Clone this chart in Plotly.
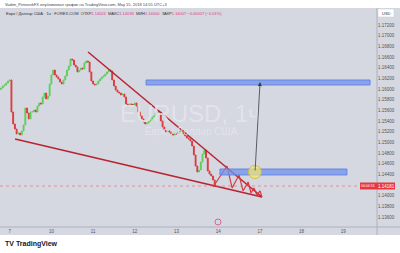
import plotly.graph_objects as go

# ---------------- data ----------------
closes = [1.16019, 1.16056, 1.16075, 1.16113, 1.16150, 1.16169, 1.15569, 1.15344, 1.15250, 1.15156,
          1.15175, 1.15138, 1.15213, 1.15325, 1.15644, 1.15550, 1.15438, 1.15569, 1.15575, 1.15606,
          1.15569, 1.15681, 1.15738, 1.15719, 1.15850, 1.15925, 1.15813, 1.15869, 1.16094, 1.16263,
          1.16356, 1.16263, 1.16225, 1.16188, 1.16131, 1.16094, 1.16169, 1.16244, 1.16356, 1.16431,
          1.16563, 1.16544, 1.16450, 1.16413, 1.16319, 1.16356, 1.16394, 1.16375, 1.16488, 1.16525,
          1.16506, 1.16319, 1.16150, 1.16094, 1.16075, 1.16094, 1.16150, 1.16188, 1.16225, 1.16244,
          1.16281, 1.16319, 1.16356, 1.16338, 1.16169, 1.16056, 1.15981, 1.15944, 1.15925, 1.15888,
          1.15906, 1.15850, 1.15719, 1.15681, 1.15719, 1.15712, 1.15700, 1.15738, 1.15681, 1.15569,
          1.15494, 1.15438, 1.15381, 1.15344, 1.15363, 1.15400, 1.15438, 1.15475, 1.15494, 1.15550,
          1.15588, 1.15569, 1.15400, 1.15288, 1.15231, 1.15194, 1.15213, 1.15194, 1.15156, 1.15138,
          1.15156, 1.15150, 1.15194, 1.15213, 1.15220, 1.15156, 1.15119, 1.15081, 1.15063, 1.15025,
          1.14931, 1.14763, 1.14556, 1.14444, 1.14481, 1.14631, 1.14781, 1.14856, 1.14706, 1.14463,
          1.14406, 1.14369, 1.14294, 1.14181]
first_open = 1.15990
day_index = [5, 29, 53, 77, 101, 125, 149, 173, 197]
day_labels = ["7", "10", "11", "12", "13", "14", "17", "18", "19"]
price_ticks = [1.136, 1.138, 1.140, 1.142, 1.144, 1.146, 1.148, 1.150, 1.152, 1.154, 1.156,
               1.158, 1.160, 1.162, 1.164, 1.166, 1.168, 1.170, 1.172]
last_price = 1.14181

# drawings (time index, price)
upper_trend_t = [50.1, 150.2]
upper_trend_p = [1.16694, 1.13975]
lower_trend_t = [8.1, 150.2]
lower_trend_p = [1.15063, 1.13975]
zigzag_t = [122.0, 130.1, 133.0, 137.0, 139.3, 142.2, 143.9, 145.6, 147.3, 149.1, 150.2]
zigzag_p = [1.14162, 1.14556, 1.14144, 1.14388, 1.14088, 1.14256, 1.14050, 1.14144, 1.14013, 1.14088, 1.13975]
zone_upper_t = [83.5, 212.4]
zone_upper_p = [1.16075, 1.16169]
zone_lower_t = [126.0, 199.1]
zone_lower_p = [1.14388, 1.14500]
arrow_t = [146.2, 149.1]
arrow_p = [1.14444, 1.16131]
circle_t = [142.4, 149.9]
circle_p = [1.14322, 1.14566]

# ---------------- figure ----------------
opens = [first_open] + closes[:-1]
highs = [max(o, c) for o, c in zip(opens, closes)]
lows = [min(o, c) for o, c in zip(opens, closes)]
idx = list(range(len(closes)))

GREEN = "#5ccf5a"
RED = "#dc3a3d"
BG = "#d5d7e1"
W, H = 400, 253

def py(p):  # pixel-from-top -> paper fraction
    return (H - p) / H

fig = go.Figure()
fig.add_trace(go.Candlestick(
    x=idx, open=opens, high=highs, low=lows, close=closes,
    increasing=dict(line=dict(color=GREEN, width=1), fillcolor=GREEN),
    decreasing=dict(line=dict(color=RED, width=1), fillcolor=RED),
    whiskerwidth=0, showlegend=False, hoverinfo="skip"))

TREND = "#b8232f"
fig.add_trace(go.Scatter(x=upper_trend_t, y=upper_trend_p, mode="lines",
                         line=dict(color=TREND, width=1.5), showlegend=False, hoverinfo="skip"))
fig.add_trace(go.Scatter(x=lower_trend_t, y=lower_trend_p, mode="lines",
                         line=dict(color=TREND, width=1.5), showlegend=False, hoverinfo="skip"))
fig.add_trace(go.Scatter(x=zigzag_t, y=zigzag_p, mode="lines",
                         line=dict(color="#d83a40", width=1.2), showlegend=False, hoverinfo="skip"))

shapes = []
# panel background
shapes.append(dict(type="rect", xref="paper", yref="paper", x0=0, x1=1, y0=py(235), y1=py(8),
                   fillcolor=BG, line=dict(width=0), layer="below"))
# separators
shapes.append(dict(type="line", xref="paper", yref="paper", x0=377 / W, x1=377 / W, y0=py(235), y1=py(8),
                   line=dict(color="#aeb1bd", width=1)))
shapes.append(dict(type="line", xref="paper", yref="paper", x0=0, x1=1, y0=py(227), y1=py(227),
                   line=dict(color="#aeb1bd", width=1)))
# zones
for zt, zp in ((zone_upper_t, zone_upper_p), (zone_lower_t, zone_lower_p)):
    shapes.append(dict(type="rect", xref="x", yref="y", x0=zt[0], x1=zt[1], y0=zp[0], y1=zp[1],
                       fillcolor="rgba(110,145,235,0.75)", line=dict(color="rgba(95,130,230,0.9)", width=1)))
# last price line
shapes.append(dict(type="line", xref="paper", yref="y", x0=0, x1=377 / W, y0=last_price, y1=last_price,
                   line=dict(color="rgba(235,90,100,0.55)", width=1, dash="dot")))
# yellow circle
shapes.append(dict(type="circle", xref="x", yref="y", x0=circle_t[0], x1=circle_t[1],
                   y0=circle_p[0], y1=circle_p[1],
                   fillcolor="rgba(246,232,110,0.7)", line=dict(color="rgba(205,185,60,0.9)", width=1)))
# price label box
shapes.append(dict(type="rect", xref="paper", yref="y", x0=360 / W, x1=395 / W,
                   y0=last_price - 0.00065, y1=last_price + 0.00065,
                   fillcolor="#e8383d", line=dict(width=0)))
# USD box
shapes.append(dict(type="rect", xref="paper", yref="paper", x0=378 / W, x1=394 / W, y0=py(17), y1=py(9),
                   fillcolor="white", line=dict(color="#c8cad4", width=0.5)))
# event icon
shapes.append(dict(type="circle", xref="paper", yref="paper", x0=215 / W, x1=221 / W, y0=py(225), y1=py(219),
                   fillcolor="rgba(0,0,0,0)", line=dict(color="#e0609a", width=1)))

PINK = "#d6457a"
legend = ("Евро / Доллар США · 1ч · FOREX.COM  ОТКР<span style='color:%s'>1.14024</span>  "
          "МАКС<span style='color:%s'>1.14038</span>  МИН<span style='color:%s'>1.14000</span>  "
          "ЗАКР<span style='color:%s'>1.14007 −0.00007 (−0.01%%)</span>") % (PINK, PINK, PINK, PINK)

annotations = [
    dict(xref="paper", yref="paper", x=3 / W, y=py(4), xanchor="left", yanchor="middle", showarrow=False,
         text="Vadim_PetrovskFX опубликовал график на TradingView.com, May 15, 2018 14:55 UTC+3",
         font=dict(size=4, color="#444", family="Arial")),
    dict(xref="paper", yref="paper", x=4 / W, y=py(13), xanchor="left", yanchor="middle", showarrow=False,
         text=legend, font=dict(size=4, color="#333", family="Arial")),
    dict(xref="paper", yref="paper", x=190 / W, y=py(114), xanchor="center", yanchor="middle", showarrow=False,
         text="EURUSD, 1ч", font=dict(size=24, color="rgba(228,229,236,0.9)", family="Arial")),
    dict(xref="paper", yref="paper", x=191 / W, y=py(131), xanchor="center", yanchor="middle", showarrow=False,
         text="Евро / Доллар США", font=dict(size=10, color="rgba(228,229,236,0.9)", family="Arial")),
    dict(xref="paper", yref="paper", x=386 / W, y=py(13), xanchor="center", yanchor="middle", showarrow=False,
         text="USD", font=dict(size=4, color="#333", family="Arial")),
    dict(xref="paper", yref="y", x=386 / W, y=last_price, xanchor="center", yanchor="middle", showarrow=False,
         text="1.14181", font=dict(size=4.5, color="white", family="Arial")),
    dict(xref="paper", yref="y", x=368 / W, y=last_price, xanchor="center", yanchor="middle", showarrow=False,
         text="00:04:55", font=dict(size=3.5, color="white", family="Arial")),
    dict(xref="x", yref="y", x=arrow_t[1], y=arrow_p[1], ax=arrow_t[0], ay=arrow_p[0],
         axref="x", ayref="y", showarrow=True, arrowhead=2, arrowsize=1, arrowwidth=0.8,
         arrowcolor="#3a3d48", text=""),
    dict(xref="paper", yref="paper", x=3 / W, y=py(244), xanchor="left", yanchor="middle", showarrow=False,
         text="<b>TV</b> <b>TradingView</b>", font=dict(size=7, color="#131722", family="Arial")),
]

fig.update_layout(
    width=W, height=H, autosize=False,
    margin=dict(l=0, r=0, t=0, b=0),
    paper_bgcolor="white", plot_bgcolor="rgba(0,0,0,0)",
    shapes=shapes, annotations=annotations,
    xaxis=dict(domain=[0, 377 / W], range=[-0.576, 216.4], showgrid=False, zeroline=False,
               showline=False, ticks="", tickvals=day_index, ticktext=day_labels,
               tickfont=dict(size=4.5, color="#555", family="Arial"), rangeslider=dict(visible=False),
               fixedrange=True),
    yaxis=dict(domain=[py(227), py(8)], range=[1.134125, 1.175188], side="right", showgrid=False,
               zeroline=False, showline=False, ticks="", tickvals=price_ticks, tickformat=".5f",
               tickfont=dict(size=4.5, color="#555", family="Arial"), fixedrange=True),
)

fig.write_html("out.html")
